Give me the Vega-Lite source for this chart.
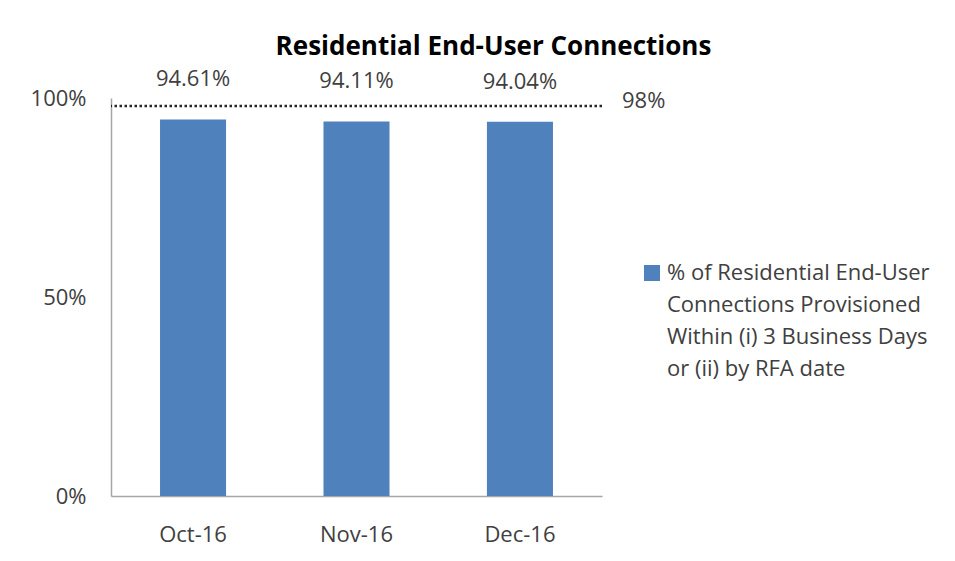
{
  "$schema": "https://vega.github.io/schema/vega-lite/v6.json",
  "autosize": "none",
  "padding": {"left": 111, "top": 98, "right": 353, "bottom": 65},
  "width": 491,
  "height": 398,
  "background": "white",
  "title": {
    "text": "Residential End-User Connections",
    "font": "Open Sans",
    "fontSize": 26,
    "fontWeight": "bold",
    "color": "#000000",
    "anchor": "middle",
    "frame": "group",
    "dx": 137,
    "offset": 8
  },
  "data": {
    "values": [
      {"month": "Oct-16", "value": 0.9461, "series": "% of Residential End-User|Connections Provisioned|Within (i) 3 Business Days|or (ii) by RFA date"},
      {"month": "Nov-16", "value": 0.9411, "series": "% of Residential End-User|Connections Provisioned|Within (i) 3 Business Days|or (ii) by RFA date"},
      {"month": "Dec-16", "value": 0.9404, "series": "% of Residential End-User|Connections Provisioned|Within (i) 3 Business Days|or (ii) by RFA date"}
    ]
  },
  "layer": [
    {
      "mark": {"type": "bar"},
      "encoding": {
        "x": {
          "field": "month",
          "type": "nominal",
          "sort": ["Oct-16", "Nov-16", "Dec-16"],
          "scale": {"paddingInner": 0.596, "paddingOuter": 0.3},
          "axis": {
            "title": null,
            "labelAngle": 0,
            "ticks": false,
            "labelPadding": 28,
            "labelFont": "Open Sans",
            "labelFontSize": 22,
            "labelColor": "#404040",
            "domainColor": "#a6a6a6",
            "domainWidth": 1.5
          }
        },
        "y": {
          "field": "value",
          "type": "quantitative",
          "scale": {"domain": [0, 1]},
          "axis": {
            "title": null,
            "values": [0, 0.5, 1],
            "format": "%",
            "grid": false,
            "ticks": false,
            "labelPadding": 25,
            "labelFont": "Open Sans",
            "labelFontSize": 22,
            "labelColor": "#404040",
            "domainColor": "#a6a6a6",
            "domainWidth": 1.5
          }
        },
        "color": {
          "field": "series",
          "type": "nominal",
          "scale": {"range": ["#4f81bd"]},
          "legend": {
            "title": null,
            "orient": "none",
            "legendX": 530,
            "legendY": 164,
            "symbolType": "square",
            "symbolSize": 256,
            "symbolStrokeWidth": 0,
            "labelFont": "Open Sans",
            "labelFontSize": 22,
            "labelColor": "#404040",
            "labelLimit": 0,
            "labelOffset": 4,
            "labelExpr": "split(datum.label, '|')",
            "padding": 0,
            "encode": {"labels": {"update": {"lineHeight": {"value": 32}}}}
          }
        }
      }
    },
    {
      "mark": {"type": "text", "baseline": "middle", "dy": -40, "font": "Open Sans", "fontSize": 22, "color": "#404040"},
      "encoding": {
        "x": {"field": "month", "type": "nominal", "sort": ["Oct-16", "Nov-16", "Dec-16"]},
        "y": {"field": "value", "type": "quantitative"},
        "text": {"field": "value", "type": "quantitative", "format": ".2%"}
      }
    },
    {
      "data": {"values": [{"target": 0.98, "label": "98%"}]},
      "layer": [
        {
          "mark": {"type": "rule", "color": "#262626", "strokeWidth": 2.5, "strokeDash": [2.5, 2.5]},
          "encoding": {"y": {"field": "target", "type": "quantitative"}}
        },
        {
          "mark": {"type": "text", "align": "left", "baseline": "middle", "dx": 20, "dy": -5, "font": "Open Sans", "fontSize": 22, "color": "#404040"},
          "encoding": {
            "x": {"value": "width"},
            "y": {"field": "target", "type": "quantitative"},
            "text": {"field": "label"}
          }
        }
      ]
    }
  ],
  "config": {"view": {"stroke": null}}
}
